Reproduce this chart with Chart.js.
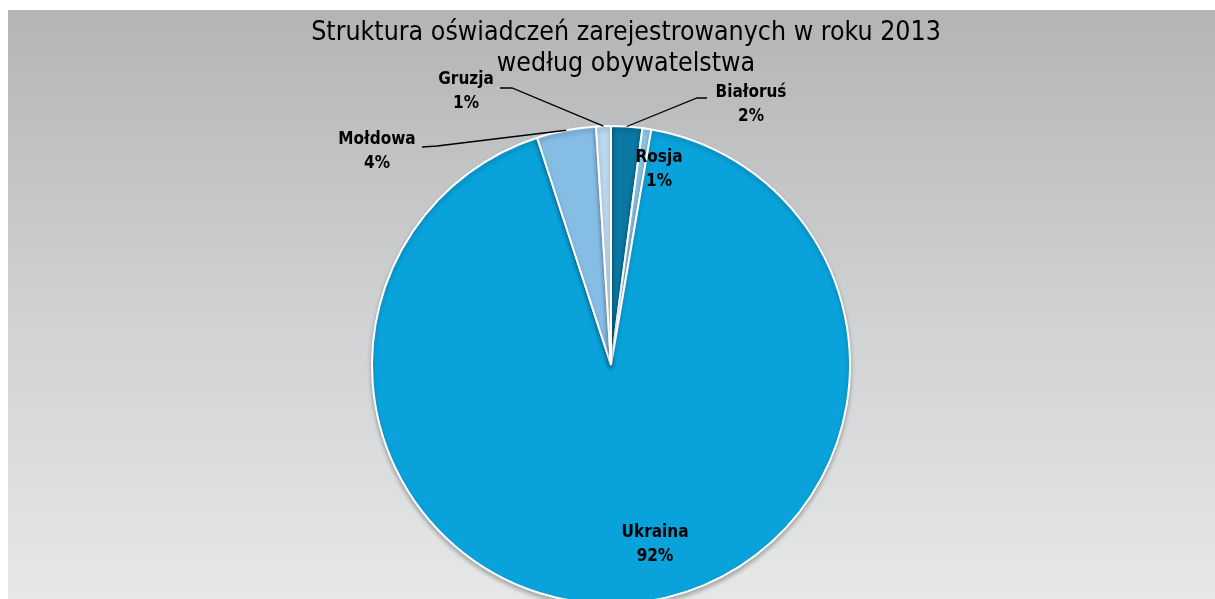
<!DOCTYPE html>
<html>
<head>
<meta charset="utf-8">
<script src="https://cdn.jsdelivr.net/npm/chart.js@4.4.1/dist/chart.umd.min.js"></script>
<style>
  html, body { margin: 0; padding: 0; background: #ffffff; overflow: hidden; }
  #wrap { width: 1215px; height: 599px; overflow: hidden; position: relative; }
  canvas { display: block; }
</style>
</head>
<body>
<div id="wrap"><canvas id="chart" width="1215" height="620"></canvas></div>
<script>
// Data
var countries = ['Białoruś', 'Rosja', 'Ukraina', 'Mołdowa', 'Gruzja'];
var shares = [2.1, 0.6, 92.3, 4.0, 1.0];
var shareLabels = ['2%', '1%', '92%', '4%', '1%'];
var sliceColors = ['#0a78a3', '#8fcdee', '#0aa2da', '#86bde4', '#bcd8ef'];

var chartTitle = ['Struktura oświadczeń zarejestrowanych w roku 2013', 'według obywatelstwa'];

// Label placement relative to pie centre (style only)
// elbow = bend of the leader line, end = end of horizontal part
var labelLayout = [
    { outside: true, elbow: [86, -267], end: [96, -267], text: [140, -260] },
    { outside: false, text: [48, -195] },
    { outside: false, text: [44, 180] },
    { outside: true, elbow: [-174, -219], end: [-189, -218], text: [-234, -213] },
    { outside: true, elbow: [-99, -277], end: [-111, -277], text: [-145, -273] }
];

var labelFont = 'bold 17px "Liberation Sans Narrow", "DejaVu Sans Condensed", sans-serif';
var titleFont = '26.5px "Liberation Sans Narrow", "DejaVu Sans Condensed", sans-serif';

// Gray gradient panel behind the chart, plus title and labels
var panelPlugin = {
    id: 'panel',
    beforeDraw: function (chart) {
        var ctx = chart.ctx;
        ctx.save();
        var grad = ctx.createLinearGradient(0, 10, 0, 599);
        grad.addColorStop(0, '#b3b4b6');
        grad.addColorStop(0.5, '#cfd0d1');
        grad.addColorStop(1, '#e6e7e7');
        ctx.fillStyle = grad;
        ctx.fillRect(8, 10, chart.width - 8, chart.height - 10);

        ctx.fillStyle = '#000000';
        ctx.font = titleFont;
        ctx.textAlign = 'center';
        ctx.textBaseline = 'middle';
        ctx.fillText(chartTitle[0], 626, 33);
        ctx.fillText(chartTitle[1], 626, 64);
        ctx.restore();
    },
    beforeDatasetsDraw: function (chart) {
        chart.ctx.save();
        chart.ctx.shadowColor = 'rgba(0,0,0,0.25)';
        chart.ctx.shadowBlur = 4;
        chart.ctx.shadowOffsetY = 3;
    },
    afterDatasetsDraw: function (chart) {
        chart.ctx.restore();
        var ctx = chart.ctx;
        var meta = chart.getDatasetMeta(0);
        ctx.save();
        ctx.font = labelFont;
        ctx.fillStyle = '#000000';
        ctx.strokeStyle = '#000000';
        ctx.lineWidth = 1.3;
        ctx.textAlign = 'center';
        ctx.textBaseline = 'middle';
        meta.data.forEach(function (arc, i) {
            var p = arc.getProps(['x', 'y', 'startAngle', 'endAngle', 'outerRadius'], true);
            var lay = labelLayout[i];
            if (lay.outside) {
                var mid = (p.startAngle + p.endAngle) / 2;
                var sx = p.x + Math.cos(mid) * p.outerRadius;
                var sy = p.y + Math.sin(mid) * p.outerRadius;
                ctx.beginPath();
                ctx.moveTo(sx, sy);
                ctx.lineTo(p.x + lay.elbow[0], p.y + lay.elbow[1]);
                ctx.lineTo(p.x + lay.end[0], p.y + lay.end[1]);
                ctx.stroke();
            }
            var tx = p.x + lay.text[0];
            var ty = p.y + lay.text[1];
            ctx.fillText(countries[i], tx, ty - 12);
            ctx.fillText(shareLabels[i], tx, ty + 12);
        });
        ctx.restore();
    }
};

new Chart(document.getElementById('chart').getContext('2d'), {
    type: 'pie',
    data: {
        labels: countries,
        datasets: [{
            data: shares,
            backgroundColor: sliceColors,
            borderColor: '#ffffff',
            borderWidth: 2
        }]
    },
    options: {
        responsive: false,
        animation: false,
        layout: { padding: { top: 125, bottom: 15, left: 7, right: 0 } },
        plugins: {
            legend: { display: false },
            tooltip: { enabled: false },
            title: { display: false }
        }
    },
    plugins: [panelPlugin]
});
</script>
</body>
</html>
